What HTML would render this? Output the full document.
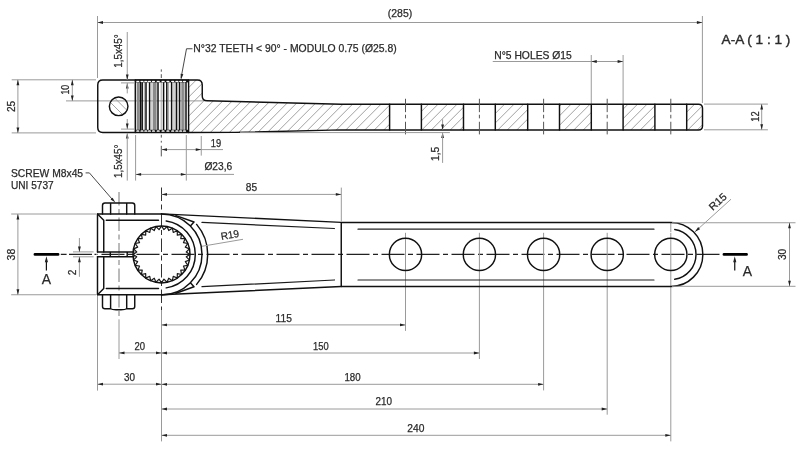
<!DOCTYPE html>
<html><head><meta charset="utf-8"><style>
html,body{margin:0;padding:0;background:#fff;width:800px;height:450px;overflow:hidden}
svg{display:block;will-change:transform}
.o{fill:none;stroke:#111;stroke-width:1.45;stroke-linecap:round;stroke-linejoin:round}
.o2{fill:none;stroke:#1a1a1a;stroke-width:1.2;stroke-linejoin:round}
.tk{fill:none;stroke:#111;stroke-width:1.5}
.tg{fill:none;stroke:#999;stroke-width:0.9}
.sc{fill:none;stroke:#222;stroke-width:0.9}
.t{fill:none;stroke:#9a9a9a;stroke-width:1}
.st{fill:none;stroke:#111;stroke-width:1.2}
.t2{fill:none;stroke:#333;stroke-width:0.9}
.c{fill:none;stroke:#222;stroke-width:1.2;stroke-dasharray:23 3.5 5 3.5}
.cv{fill:none;stroke:#333;stroke-width:1;stroke-dasharray:13.5 3.5 5 3.5}
.oi{fill:none;stroke:#1a1a1a;stroke-width:1.25;stroke-linecap:round}
.oi2{fill:none;stroke:#222;stroke-width:1.2;stroke-linecap:round}
.cvg{fill:none;stroke:#777;stroke-width:1;stroke-dasharray:13.5 3.5 5 3.5}
.c2{fill:none;stroke:#555;stroke-width:1;stroke-dasharray:13.4 2.6 3.6 3.4}
.c3{fill:none;stroke:#555;stroke-width:1}
.cg{fill:none;stroke:#999;stroke-width:1}
.h{fill:none;stroke:#8a8a8a;stroke-width:0.8}
.ar{fill:#222;stroke:none}
.mk{fill:none;stroke:#000;stroke-width:2.9;stroke-linecap:round}
.tx{fill:#2a2a2a;stroke:#2a2a2a;stroke-width:0.25;font-family:"Liberation Sans",sans-serif}
</style></head><body>
<svg width="800" height="450" viewBox="0 0 800 450">
<defs>
<clipPath id="hc"><path d="M188.6 80.0L197.5 80.0Q202.25 80.0 202.25 85L202.25 96Q202.25 100.8 207 100.8L341 104.2L698.5 104.2Q702.5 104.2 702.5 108.2L702.5 125.9Q702.5 129.9 698.5 129.9L341 129.9L235 132.4L188.6 132.5Z"/></clipPath>
<mask id="hm"><rect x="0" y="0" width="800" height="450" fill="#fff"/><g fill="#000"><rect x="389.6" y="90" width="31.8" height="50"/><rect x="463.5" y="90" width="31.8" height="50"/><rect x="527.7" y="90" width="31.8" height="50"/><rect x="591.3" y="90" width="31.8" height="50"/><rect x="654.9" y="90" width="31.8" height="50"/></g></mask>
<clipPath id="pc"><circle cx="118.65" cy="106.3" r="9.3"/></clipPath>
</defs>
<g clip-path="url(#hc)"><path d="M117.25 140L182.25 75M126.75 140L191.75 75M136.25 140L201.25 75M145.75 140L210.75 75M155.25 140L220.25 75M164.75 140L229.75 75M174.25 140L239.25 75M183.75 140L248.75 75M193.25 140L258.25 75M202.75 140L267.75 75M212.25 140L277.25 75M221.75 140L286.75 75M231.25 140L296.25 75M240.75 140L305.75 75M250.25 140L315.25 75M259.75 140L324.75 75M269.25 140L334.25 75M278.75 140L343.75 75M288.25 140L353.25 75M297.75 140L362.75 75M307.25 140L372.25 75M316.75 140L381.75 75M326.25 140L391.25 75M335.75 140L400.75 75M345.25 140L410.25 75M354.75 140L419.75 75M364.25 140L429.25 75M373.75 140L438.75 75M383.25 140L448.25 75M392.75 140L457.75 75M402.25 140L467.25 75M411.75 140L476.75 75M421.25 140L486.25 75M430.75 140L495.75 75M440.25 140L505.25 75M449.75 140L514.75 75M459.25 140L524.25 75M468.75 140L533.75 75M478.25 140L543.25 75M487.75 140L552.75 75M497.25 140L562.25 75M506.75 140L571.75 75M516.25 140L581.25 75M525.75 140L590.75 75M535.25 140L600.25 75M544.75 140L609.75 75M554.25 140L619.25 75M563.75 140L628.75 75M573.25 140L638.25 75M582.75 140L647.75 75M592.25 140L657.25 75M601.75 140L666.75 75M611.25 140L676.25 75M620.75 140L685.75 75M630.25 140L695.25 75M639.75 140L704.75 75M649.25 140L714.25 75M658.75 140L723.75 75M668.25 140L733.25 75M677.75 140L742.75 75M687.25 140L752.25 75M696.75 140L761.75 75M706.25 140L771.25 75" class="h" mask="url(#hm)"/></g>
<g clip-path="url(#pc)"><path d="M100 83.35L140 123.35M100 92L140 132" class="h"/></g>
<line x1="66" y1="100.9" x2="203" y2="100.9" class="t"/>
<rect x="136.7" y="81.0" width="2.6" height="50.5" fill="#8a8a8a"/>
<rect x="153" y="81.0" width="3.6" height="50.5" fill="#8a8a8a"/>
<rect x="181.3" y="81.0" width="3" height="50.5" fill="#8a8a8a"/>
<path d="M140.4 81.0L140.4 131.5M142.2 81.0L142.2 131.5M146 81.0L146 131.5M149.6 81.0L149.6 131.5M158 81.0L158 131.5M163.6 81.0L163.6 131.5M166.8 81.0L166.8 131.5M171.6 81.0L171.6 131.5M176.4 81.0L176.4 131.5M179.6 81.0L179.6 131.5M186 81.0L186 131.5" class="tk"/>
<path d="M161.2 81.0L161.2 131.5M144.3 81.0L144.3 131.5M152 81.0L152 131.5M168.6 81.0L168.6 131.5M174 81.0L174 131.5M177.9 81.0L177.9 131.5M184 81.0L184 131.5" class="tg"/>
<rect x="135.3" y="79.4" width="53.3" height="3.0" fill="#111"/>
<rect x="135.3" y="129.8" width="53.3" height="3.0" fill="#111"/>
<g fill="#fff"><ellipse cx="137.8" cy="81.2" rx="1.7" ry="1.05"/><ellipse cx="137.8" cy="131.2" rx="1.7" ry="1.05"/><ellipse cx="142" cy="81.2" rx="1.7" ry="1.05"/><ellipse cx="142" cy="131.2" rx="1.7" ry="1.05"/><ellipse cx="145.8" cy="81.2" rx="1.7" ry="1.05"/><ellipse cx="145.8" cy="131.2" rx="1.7" ry="1.05"/><ellipse cx="149.4" cy="81.2" rx="1.7" ry="1.05"/><ellipse cx="149.4" cy="131.2" rx="1.7" ry="1.05"/><ellipse cx="153.5" cy="81.2" rx="1.7" ry="1.05"/><ellipse cx="153.5" cy="131.2" rx="1.7" ry="1.05"/><ellipse cx="158.2" cy="81.2" rx="1.7" ry="1.05"/><ellipse cx="158.2" cy="131.2" rx="1.7" ry="1.05"/><ellipse cx="163.1" cy="81.2" rx="1.7" ry="1.05"/><ellipse cx="163.1" cy="131.2" rx="1.7" ry="1.05"/><ellipse cx="167.9" cy="81.2" rx="1.7" ry="1.05"/><ellipse cx="167.9" cy="131.2" rx="1.7" ry="1.05"/><ellipse cx="172.7" cy="81.2" rx="1.7" ry="1.05"/><ellipse cx="172.7" cy="131.2" rx="1.7" ry="1.05"/><ellipse cx="176.9" cy="81.2" rx="1.7" ry="1.05"/><ellipse cx="176.9" cy="131.2" rx="1.7" ry="1.05"/><ellipse cx="180.7" cy="81.2" rx="1.7" ry="1.05"/><ellipse cx="180.7" cy="131.2" rx="1.7" ry="1.05"/><ellipse cx="184.5" cy="81.2" rx="1.7" ry="1.05"/><ellipse cx="184.5" cy="131.2" rx="1.7" ry="1.05"/></g>
<line x1="135.3" y1="80" x2="135.3" y2="132.5" class="o"/>
<line x1="188.6" y1="80" x2="188.6" y2="132.5" class="o"/>
<circle cx="118.65" cy="106.3" r="9.3" class="o"/>
<path d="M102.75 80.0L197.5 80.0Q202.25 80.0 202.25 85L202.25 96Q202.25 100.8 207 100.8L341 104.2L698.5 104.2Q702.5 104.2 702.5 108.2L702.5 125.9Q702.5 129.9 698.5 129.9L341 129.9L235 132.4L188.6 132.5L102.75 132.5Q97.75 132.5 97.75 127.5L97.75 85.0Q97.75 80.0 102.75 80.0Z" class="o"/>
<line x1="389.6" y1="104.2" x2="389.6" y2="129.9" class="o"/>
<line x1="421.4" y1="104.2" x2="421.4" y2="129.9" class="o"/>
<line x1="405.5" y1="98.75" x2="405.5" y2="134.4" class="c2"/>
<line x1="463.5" y1="104.2" x2="463.5" y2="129.9" class="o"/>
<line x1="495.3" y1="104.2" x2="495.3" y2="129.9" class="o"/>
<line x1="479.4" y1="98.75" x2="479.4" y2="134.4" class="c2"/>
<line x1="527.7" y1="104.2" x2="527.7" y2="129.9" class="o"/>
<line x1="559.5" y1="104.2" x2="559.5" y2="129.9" class="o"/>
<line x1="543.6" y1="98.75" x2="543.6" y2="134.4" class="c2"/>
<line x1="591.3" y1="104.2" x2="591.3" y2="129.9" class="o"/>
<line x1="623.1" y1="104.2" x2="623.1" y2="129.9" class="o"/>
<line x1="607.2" y1="98.75" x2="607.2" y2="134.4" class="c2"/>
<line x1="654.9" y1="104.2" x2="654.9" y2="129.9" class="o"/>
<line x1="686.7" y1="104.2" x2="686.7" y2="129.9" class="o"/>
<line x1="670.8" y1="98.75" x2="670.8" y2="134.4" class="c2"/>
<path d="M161.3 69.4L161.3 71.7M161.3 74.2L161.3 78M161.3 134.8L161.3 137.6M161.3 140.8L161.3 142.6M161.3 145.8L161.3 156.4" class="c3"/>
<line x1="97.5" y1="16" x2="97.5" y2="78" class="t"/>
<line x1="702.4" y1="16" x2="702.4" y2="103" class="t"/>
<line x1="97.5" y1="22.5" x2="702.4" y2="22.5" class="t"/>
<path d="M97.5 22.5L103 21.1L103 23.9Z" class="ar"/>
<path d="M702.4 22.5L696.9 23.9L696.9 21.1Z" class="ar"/>
<text x="400" y="17" font-size="10.3" text-anchor="middle" class="tx" textLength="24.4" lengthAdjust="spacingAndGlyphs">(285)</text>
<text x="757.5" y="45" font-size="1" text-anchor="middle" class="tx"></text>
<text x="721.6" y="44.3" font-size="13.4" class="tx" style="stroke-width:0.4" textLength="68.8" lengthAdjust="spacingAndGlyphs">A-A ( 1 : 1 )</text>
<line x1="11.7" y1="79.8" x2="96" y2="79.8" class="t"/>
<line x1="11.7" y1="132.9" x2="96" y2="132.9" class="t"/>
<line x1="17.9" y1="79.8" x2="17.9" y2="132.9" class="t"/>
<path d="M17.9 79.8L19.3 85.3L16.5 85.3Z" class="ar"/>
<path d="M17.9 132.9L16.5 127.4L19.3 127.4Z" class="ar"/>
<text x="15.2" y="106.4" font-size="10.3" text-anchor="middle" class="tx" transform="rotate(-90 15.2 106.4)" textLength="11.2" lengthAdjust="spacingAndGlyphs">25</text>
<line x1="72.3" y1="79.8" x2="72.3" y2="100.9" class="t"/>
<path d="M72.3 79.8L73.7 85.3L70.9 85.3Z" class="ar"/>
<path d="M72.3 100.9L70.9 95.4L73.7 95.4Z" class="ar"/>
<text x="69.2" y="89.7" font-size="10.3" text-anchor="middle" class="tx" transform="rotate(-90 69.2 89.7)" textLength="9.8" lengthAdjust="spacingAndGlyphs">10</text>
<line x1="127.25" y1="32" x2="127.25" y2="80" class="t"/>
<path d="M127.25 80L125.85 74.5L128.65 74.5Z" class="ar"/>
<line x1="121" y1="82.9" x2="134" y2="82.9" class="t"/>
<path d="M127.25 82.9L128.65 88.4L125.85 88.4Z" class="ar"/>
<line x1="127.25" y1="82.9" x2="127.25" y2="93.4" class="t"/>
<text x="122.3" y="51.05" font-size="10.3" text-anchor="middle" class="tx" transform="rotate(-90 122.3 51.05)" textLength="33.5" lengthAdjust="spacingAndGlyphs">1,5x45°</text>
<line x1="121" y1="129.1" x2="134" y2="129.1" class="t"/>
<line x1="127.25" y1="119" x2="127.25" y2="129.1" class="t"/>
<path d="M127.25 129.1L125.85 123.6L128.65 123.6Z" class="ar"/>
<path d="M127.25 132.9L128.65 138.4L125.85 138.4Z" class="ar"/>
<line x1="127.25" y1="132.9" x2="127.25" y2="180.6" class="t"/>
<text x="122.3" y="161.25" font-size="10.3" text-anchor="middle" class="tx" transform="rotate(-90 122.3 161.25)" textLength="33.7" lengthAdjust="spacingAndGlyphs">1,5x45°</text>
<path d="M192.5 48.75L186.5 48.75L181 78.3" class="t2"/>
<path d="M181 79.5L180.6 73.84L183.35 74.34Z" class="ar"/>
<text x="193.25" y="52.2" font-size="10.3" text-anchor="start" class="tx" textLength="203.5" lengthAdjust="spacingAndGlyphs">N°32 TEETH &lt; 90° - MODULO 0.75 (Ø25.8)</text>
<line x1="201.25" y1="136" x2="201.25" y2="155.6" class="t"/>
<line x1="161.5" y1="149.6" x2="223" y2="149.6" class="t"/>
<path d="M161.5 149.6L167 148.2L167 151Z" class="ar"/>
<path d="M201.25 149.6L195.75 151L195.75 148.2Z" class="ar"/>
<text x="216" y="146.9" font-size="10.3" text-anchor="middle" class="tx" textLength="10.4" lengthAdjust="spacingAndGlyphs">19</text>
<line x1="135.6" y1="135" x2="135.6" y2="180.6" class="t"/>
<line x1="186.3" y1="135" x2="186.3" y2="180.6" class="t"/>
<line x1="135.6" y1="174.4" x2="234" y2="174.4" class="t"/>
<path d="M135.6 174.4L141.1 173L141.1 175.8Z" class="ar"/>
<path d="M186.3 174.4L180.8 175.8L180.8 173Z" class="ar"/>
<text x="218.3" y="170.1" font-size="10.3" text-anchor="middle" class="tx" textLength="27.8" lengthAdjust="spacingAndGlyphs">Ø23,6</text>
<line x1="240" y1="132.6" x2="449.9" y2="132.6" class="t"/>
<line x1="442.6" y1="119.3" x2="442.6" y2="129.9" class="t"/>
<path d="M442.6 129.9L441.2 124.4L444 124.4Z" class="ar"/>
<path d="M442.6 132.6L444 138.1L441.2 138.1Z" class="ar"/>
<line x1="442.6" y1="132.6" x2="442.6" y2="162.9" class="t"/>
<text x="439.3" y="153.85" font-size="10.3" text-anchor="middle" class="tx" transform="rotate(-90 439.3 153.85)" textLength="14.3" lengthAdjust="spacingAndGlyphs">1,5</text>
<line x1="704" y1="104.1" x2="767.9" y2="104.1" class="t"/>
<line x1="704" y1="129.8" x2="767.9" y2="129.8" class="t"/>
<line x1="761.7" y1="104.1" x2="761.7" y2="129.8" class="t"/>
<path d="M761.7 104.1L763.1 109.6L760.3 109.6Z" class="ar"/>
<path d="M761.7 129.8L760.3 124.3L763.1 124.3Z" class="ar"/>
<text x="758.8" y="116.55" font-size="10.3" text-anchor="middle" class="tx" transform="rotate(-90 758.8 116.55)" textLength="10.3" lengthAdjust="spacingAndGlyphs">12</text>
<line x1="591.25" y1="55" x2="591.25" y2="103" class="t"/>
<line x1="623.1" y1="55" x2="623.1" y2="103" class="t"/>
<line x1="492.75" y1="61.5" x2="623.1" y2="61.5" class="t"/>
<path d="M591.25 61.5L596.75 60.1L596.75 62.9Z" class="ar"/>
<path d="M623.1 61.5L617.6 62.9L617.6 60.1Z" class="ar"/>
<text x="494.25" y="59" font-size="10.3" text-anchor="start" class="tx" textLength="77.5" lengthAdjust="spacingAndGlyphs">N°5 HOLES Ø15</text>
<path d="M60.8 254.4L66.6 254.4M69 254.4L92 254.4M94.5 254.4L96.5 254.4" class="c" style="stroke-dasharray:none"/>
<path d="M97.5 254.4L722 254.4" class="c" style="stroke-dashoffset:-4"/>
<path d="M161.5 187.5L161.5 310" class="cv"/>
<line x1="161.5" y1="310" x2="161.5" y2="441.4" class="t"/>
<path d="M119 192L119 320" class="cvg"/>
<line x1="119" y1="320" x2="119" y2="359" class="t"/>
<path d="M405.5 232.8L405.5 276" class="cg"/>
<path d="M479.4 232.8L479.4 276" class="cg"/>
<path d="M543.6 232.8L543.6 276" class="cg"/>
<path d="M607.2 232.8L607.2 276" class="cg"/>
<path d="M670.8 232.8L670.8 276" class="cg"/>
<line x1="405.5" y1="276" x2="405.5" y2="330.9" class="t"/>
<line x1="479.4" y1="276" x2="479.4" y2="359" class="t"/>
<line x1="543.6" y1="276" x2="543.6" y2="390.4" class="t"/>
<line x1="607.2" y1="276" x2="607.2" y2="414.7" class="t"/>
<line x1="670.8" y1="276" x2="670.8" y2="441.4" class="t"/>
<line x1="670.8" y1="222.5" x2="670.8" y2="232" class="cg"/>
<path d="M97.5 213.9L161.5 213.9M97.5 294.8L161.5 294.8M97.5 213.9L97.5 251.9M97.5 256.8L97.5 294.8" class="o"/>
<path d="M97.5 213.9L103.75 220.2L103.75 251.9M103.75 256.8L103.75 288.4L97.5 294.8M106.25 220.25L158.5 220.25M106.25 288.5L158.5 288.5" class="o"/>
<path d="M97.5 251.9L134 251.9M97.5 256.8L134 256.8M110.3 251.9L110.3 256.8M127.2 251.9L127.2 256.8" class="o"/>
<path d="M102.5 213.9L102.5 205.5Q102.5 203 105 203L132.25 203Q134.75 203 134.75 205.5L134.75 213.9M110.6 203.3L110.6 213.9M126.7 203.3L126.7 213.9" class="o"/>
<path d="M102.5 294.8L102.5 306.5Q102.5 308.75 105 308.75L110.6 308.75Q112 309.75 116 309.75L121 309.75Q125.3 309.75 126.7 308.75L132.25 308.75Q134.75 308.75 134.75 306.5L134.75 294.8M110.6 294.8L110.6 308.75M126.7 294.8L126.7 308.75" class="o"/>
<path d="M161.5 226L163.94 229.62L167.04 226.55L168.73 230.57L172.37 228.16L173.24 232.44L177.28 230.79L177.3 235.15L181.58 234.32L180.75 238.6L185.11 238.62L183.46 242.66L187.74 243.53L185.33 247.17L189.35 248.86L186.28 251.96L189.9 254.4L186.28 256.84L189.35 259.94L185.33 261.63L187.74 265.27L183.46 266.14L185.11 270.18L180.75 270.2L181.58 274.48L177.3 273.65L177.28 278.01L173.24 276.36L172.37 280.64L168.73 278.23L167.04 282.25L163.94 279.18L161.5 282.8L159.06 279.18L155.96 282.25L154.27 278.23L150.63 280.64L149.76 276.36L145.72 278.01L145.7 273.65L141.42 274.48L142.25 270.2L137.89 270.18L139.54 266.14L135.26 265.27L137.67 261.63L133.65 259.94L136.72 256.84L133.1 254.4L136.72 251.96L133.65 248.86L137.67 247.17L135.26 243.53L139.54 242.66L137.89 238.62L142.25 238.6L141.42 234.32L145.7 235.15L145.72 230.79L149.76 232.44L150.63 228.16L154.27 230.57L155.96 226.55L159.06 229.62L161.5 226Z" class="o2"/>
<circle cx="161.5" cy="254.4" r="28.5" class="o"/>
<path d="M166.2 220.93A33.8 33.8 0 0 1 166.2 287.87" class="o"/>
<path d="M161.5 213.9A40.5 40.5 0 0 1 161.5 294.9" class="o"/>
<path d="M196.63 224.4A46.2 46.2 0 0 1 196.63 284.4" class="o"/>
<path d="M176 215.6L194 222L190.6 225.8M176 293.2L194 286.8L190.6 283" class="o"/>
<path d="M161.5 213.9L341.25 222.4M161.5 294.8L341.25 286.5" class="o"/>
<path d="M202 222.4L334.4 228.5M202 286.6L334.4 280" class="oi"/>
<path d="M341.25 222.4L341.25 286.5M341.25 222.4L670.8 222.4A32.05 32.05 0 0 1 670.8 286.5L341.25 286.5" class="o"/>
<path d="M358 229.2L654 229.2M358 280L654 280" class="oi2"/>
<path d="M674.74 229.51A25.2 25.2 0 0 1 674.74 279.29" class="o"/>
<circle cx="405.5" cy="254.4" r="16.15" class="o"/>
<circle cx="479.4" cy="254.4" r="16.15" class="o"/>
<circle cx="543.6" cy="254.4" r="16.15" class="o"/>
<circle cx="607.2" cy="254.4" r="16.15" class="o"/>
<circle cx="670.8" cy="254.4" r="16.15" class="o"/>
<path d="M35 254.4L58 254.4M724 254.4L746.5 254.4" class="mk"/>
<path d="M46.4 270.4L46.4 260M734.75 270.5L734.75 260" class="st"/>
<path d="M46.4 256.2L48 262.2L44.8 262.2Z" class="ar"/>
<path d="M734.75 256.2L736.35 262.2L733.15 262.2Z" class="ar"/>
<text x="46.35" y="283.6" font-size="14.8" text-anchor="middle" class="tx" textLength="9.3" lengthAdjust="spacingAndGlyphs">A</text>
<text x="747.35" y="275.75" font-size="14.8" text-anchor="middle" class="tx" textLength="9.3" lengthAdjust="spacingAndGlyphs">A</text>
<line x1="11.2" y1="214" x2="96" y2="214" class="t"/>
<line x1="11.2" y1="294.75" x2="96" y2="294.75" class="t"/>
<line x1="17.9" y1="214" x2="17.9" y2="294.75" class="t"/>
<path d="M17.9 214L19.3 219.5L16.5 219.5Z" class="ar"/>
<path d="M17.9 294.75L16.5 289.25L19.3 289.25Z" class="ar"/>
<text x="15.2" y="254.6" font-size="10.3" text-anchor="middle" class="tx" transform="rotate(-90 15.2 254.6)" textLength="11.6" lengthAdjust="spacingAndGlyphs">38</text>
<line x1="73" y1="251.9" x2="93.6" y2="251.9" class="t"/>
<line x1="73" y1="256.8" x2="93.6" y2="256.8" class="t"/>
<line x1="79.4" y1="238" x2="79.4" y2="251.9" class="t"/>
<path d="M79.4 251.9L78 246.4L80.8 246.4Z" class="ar"/>
<line x1="79.4" y1="256.8" x2="79.4" y2="276.8" class="t"/>
<path d="M79.4 256.8L80.8 262.3L78 262.3Z" class="ar"/>
<text x="76.4" y="272.35" font-size="10.3" text-anchor="middle" class="tx" transform="rotate(-90 76.4 272.35)" textLength="5.6" lengthAdjust="spacingAndGlyphs">2</text>
<line x1="672" y1="222.75" x2="795.5" y2="222.75" class="t"/>
<line x1="672" y1="286.3" x2="795.5" y2="286.3" class="t"/>
<line x1="789.5" y1="222.75" x2="789.5" y2="286.3" class="t"/>
<path d="M789.5 222.75L790.9 228.25L788.1 228.25Z" class="ar"/>
<path d="M789.5 286.3L788.1 280.8L790.9 280.8Z" class="ar"/>
<text x="786.5" y="254.4" font-size="10.3" text-anchor="middle" class="tx" transform="rotate(-90 786.5 254.4)" textLength="11.2" lengthAdjust="spacingAndGlyphs">30</text>
<line x1="695" y1="231.8" x2="731" y2="199.2" class="t"/>
<path d="M695 231.8L698.14 227.07L700.02 229.15Z" class="ar"/>
<text x="720.2" y="204.3" font-size="10.3" text-anchor="middle" class="tx" transform="rotate(-42 720.2 204.3)" textLength="20" lengthAdjust="spacingAndGlyphs">R15</text>
<line x1="201.9" y1="246.3" x2="243" y2="239.3" class="t"/>
<text x="230.5" y="238.3" font-size="10.3" text-anchor="middle" class="tx" transform="rotate(-10 230.5 238.3)" textLength="18.5" lengthAdjust="spacingAndGlyphs">R19</text>
<path d="M85.6 172.9L89.4 172.9L113 200.2" class="t2"/>
<path d="M115.4 202.6L110.58 199.6L112.6 197.66Z" class="ar"/>
<text x="11" y="177.3" font-size="10.3" text-anchor="start" class="tx" textLength="72.1" lengthAdjust="spacingAndGlyphs">SCREW M8x45</text>
<text x="11" y="188.8" font-size="10.3" text-anchor="start" class="tx" textLength="42.75" lengthAdjust="spacingAndGlyphs">UNI 5737</text>
<line x1="341.3" y1="187.6" x2="341.3" y2="221" class="t"/>
<line x1="161.5" y1="194.4" x2="341.3" y2="194.4" class="t"/>
<path d="M161.5 194.4L167 193L167 195.8Z" class="ar"/>
<path d="M341.3 194.4L335.8 195.8L335.8 193Z" class="ar"/>
<text x="251.5" y="191.1" font-size="10.3" text-anchor="middle" class="tx" textLength="11.3" lengthAdjust="spacingAndGlyphs">85</text>
<line x1="97.5" y1="296" x2="97.5" y2="390.6" class="t"/>
<line x1="161.5" y1="324.9" x2="405.5" y2="324.9" class="t"/>
<path d="M161.5 324.9L167 323.5L167 326.3Z" class="ar"/>
<path d="M405.5 324.9L400 326.3L400 323.5Z" class="ar"/>
<text x="283.75" y="321.7" font-size="10.3" text-anchor="middle" class="tx" textLength="16.3" lengthAdjust="spacingAndGlyphs">115</text>
<line x1="119" y1="352.9" x2="161.5" y2="352.9" class="t"/>
<path d="M119 352.9L124.5 351.5L124.5 354.3Z" class="ar"/>
<path d="M161.5 352.9L156 354.3L156 351.5Z" class="ar"/>
<text x="139.7" y="349.8" font-size="10.3" text-anchor="middle" class="tx" textLength="10.6" lengthAdjust="spacingAndGlyphs">20</text>
<line x1="161.5" y1="353" x2="479.4" y2="353" class="t"/>
<path d="M161.5 353L167 351.6L167 354.4Z" class="ar"/>
<path d="M479.4 353L473.9 354.4L473.9 351.6Z" class="ar"/>
<text x="320.9" y="349.8" font-size="10.3" text-anchor="middle" class="tx" textLength="15.65" lengthAdjust="spacingAndGlyphs">150</text>
<line x1="97.5" y1="384.2" x2="161.5" y2="384.2" class="t"/>
<path d="M97.5 384.2L103 382.8L103 385.6Z" class="ar"/>
<path d="M161.5 384.2L156 385.6L156 382.8Z" class="ar"/>
<text x="129.5" y="381.2" font-size="10.3" text-anchor="middle" class="tx" textLength="11" lengthAdjust="spacingAndGlyphs">30</text>
<line x1="161.5" y1="384.3" x2="543.6" y2="384.3" class="t"/>
<path d="M161.5 384.3L167 382.9L167 385.7Z" class="ar"/>
<path d="M543.6 384.3L538.1 385.7L538.1 382.9Z" class="ar"/>
<text x="352.5" y="380.8" font-size="10.3" text-anchor="middle" class="tx" textLength="16.2" lengthAdjust="spacingAndGlyphs">180</text>
<line x1="161.5" y1="409" x2="607.2" y2="409" class="t"/>
<path d="M161.5 409L167 407.6L167 410.4Z" class="ar"/>
<path d="M607.2 409L601.7 410.4L601.7 407.6Z" class="ar"/>
<text x="383.85" y="405.2" font-size="10.3" text-anchor="middle" class="tx" textLength="16.5" lengthAdjust="spacingAndGlyphs">210</text>
<line x1="161.5" y1="435.3" x2="670.8" y2="435.3" class="t"/>
<path d="M161.5 435.3L167 433.9L167 436.7Z" class="ar"/>
<path d="M670.8 435.3L665.3 436.7L665.3 433.9Z" class="ar"/>
<text x="415.8" y="431.6" font-size="10.3" text-anchor="middle" class="tx" textLength="17.1" lengthAdjust="spacingAndGlyphs">240</text>
</svg>
</body></html>
